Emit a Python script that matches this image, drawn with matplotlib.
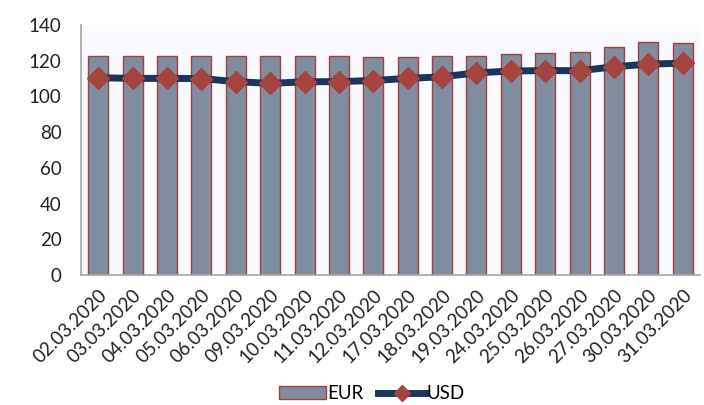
import numpy as np
import matplotlib
matplotlib.use("Agg")
import matplotlib.pyplot as plt
from matplotlib.lines import Line2D
from matplotlib.patches import Patch

plt.rcParams['font.family'] = ['Lato', 'DejaVu Sans']

dates = ['02.03.2020', '03.03.2020', '04.03.2020', '05.03.2020', '06.03.2020',
         '09.03.2020', '10.03.2020', '11.03.2020', '12.03.2020', '17.03.2020',
         '18.03.2020', '19.03.2020', '24.03.2020', '25.03.2020', '26.03.2020',
         '27.03.2020', '30.03.2020', '31.03.2020']
eur = [122.4, 122.4, 122.5, 122.4, 122.4, 122.5, 122.4, 122.4, 122.3, 122.3,
       122.4, 122.7, 123.6, 124.1, 124.9, 127.7, 130.6, 130.1]
usd = [110.5, 110.1, 110.1, 110.0, 108.3, 107.3, 108.2, 108.3, 108.9, 110.1,
       111.0, 113.2, 114.2, 114.5, 114.4, 116.6, 118.1, 118.6]

fig = plt.figure(figsize=(7.04, 4.05), dpi=100)
ax = fig.add_axes([81 / 704, 1 - 275 / 405, 619 / 704, 250 / 405])
ax.set_facecolor('#f8fafd')

x = np.arange(len(dates))
ax.bar(x, eur, width=0.58, color='#7f8d9f', edgecolor='#a5403d', linewidth=1.0, zorder=2)
ax.plot(x, usd, color='#1b365d', linewidth=5, marker='D', markersize=11,
        markerfacecolor='#a5443f', markeredgecolor='#a5443f', zorder=3)

ax.set_xlim(-0.5, len(dates) - 0.5)
ax.set_ylim(0, 140)
ax.set_yticks(range(0, 141, 20))
ax.set_xticks(x)
ax.set_xticklabels(dates, rotation=45, ha='right', rotation_mode='anchor')
ax.tick_params(axis='both', length=0, labelsize=13.5, colors='#222222')
ax.tick_params(axis='y', pad=14)
ax.tick_params(axis='x', pad=8)

for s in ['top', 'right']:
    ax.spines[s].set_visible(False)
for s in ['left', 'bottom']:
    ax.spines[s].set_color('#a6a6a6')
    ax.spines[s].set_linewidth(1.2)

handles = [Patch(facecolor='#7f8d9f', edgecolor='#a5403d', label='EUR'),
           Line2D([0], [0], color='#1b365d', linewidth=5, marker='D', markersize=8,
                  markerfacecolor='#a5443f', markeredgecolor='#a5443f', label='USD')]
fig.legend(handles=handles, loc='lower center', ncol=2, frameon=False,
           bbox_to_anchor=(0.528, -0.035), fontsize=13.5, handlelength=2.5,
           handletextpad=0.05, columnspacing=0.8)

fig.savefig('out.png', dpi=100)
